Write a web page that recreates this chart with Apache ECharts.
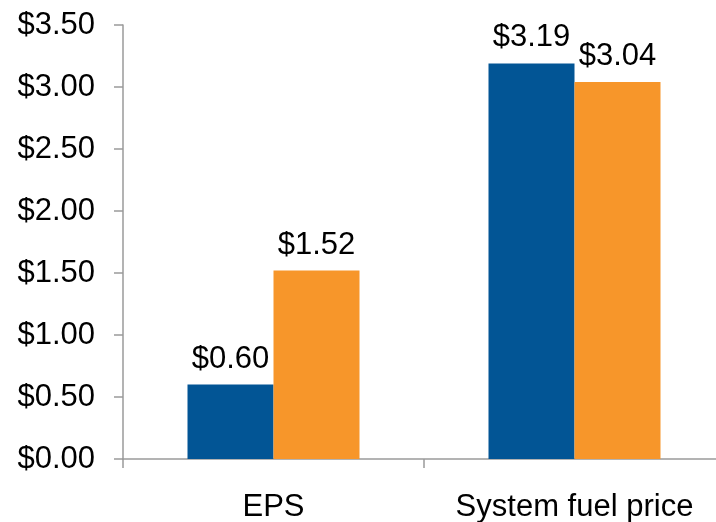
<!DOCTYPE html>
<html>
<head>
<meta charset="utf-8">
<script src="https://cdn.jsdelivr.net/npm/echarts@6/dist/echarts.min.js"></script>
<style>
  html, body { margin: 0; padding: 0; background: #fff; }
  #chart { width: 716px; height: 522px; }
</style>
</head>
<body>
<div id="chart"></div>
<script>
// Categories and the two compared periods
const categories = ['EPS', 'System fuel price'];
const seriesBlue = [0.60, 3.19];
const seriesOrange = [1.52, 3.04];
const yTicks = { min: 0, max: 3.5, interval: 0.5 };

const FONT = '"Liberation Sans", Arial, sans-serif';
const money = v => '$' + Number(v).toFixed(2);

const chart = echarts.init(document.getElementById('chart'), null, { renderer: 'canvas' });

function barSeries(data, color) {
  return {
    type: 'bar',
    data: data,
    barWidth: 86,
    barGap: '0%',
    itemStyle: { color: color },
    label: {
      show: true,
      position: 'top',
      distance: 10,
      formatter: p => money(p.value),
      color: '#000',
      fontFamily: FONT,
      fontSize: 31
    }
  };
}

chart.setOption({
  animation: false,
  grid: { left: 123, top: 25, bottom: 63, width: 602, containLabel: false, outerBoundsMode: 'none' },
  xAxis: {
    type: 'category',
    data: categories,
    axisLine: { lineStyle: { color: '#9a9a9a', width: 1.5 } },
    axisTick: { show: true, length: 9, lineStyle: { color: '#9a9a9a', width: 1.5 } },
    axisLabel: { color: '#000', fontFamily: FONT, fontSize: 31, margin: 33, interval: 0, hideOverlap: false }
  },
  yAxis: {
    type: 'value',
    min: yTicks.min,
    max: yTicks.max,
    interval: yTicks.interval,
    splitLine: { show: false },
    axisLine: { show: true, lineStyle: { color: '#9a9a9a', width: 1.5 } },
    axisTick: { show: true, length: 9, lineStyle: { color: '#9a9a9a', width: 1.5 } },
    axisLabel: { color: '#000', fontFamily: FONT, fontSize: 31, margin: 28, formatter: money }
  },
  series: [
    barSeries(seriesBlue, '#025595'),
    barSeries(seriesOrange, '#F7962A')
  ]
});
</script>
</body>
</html>
